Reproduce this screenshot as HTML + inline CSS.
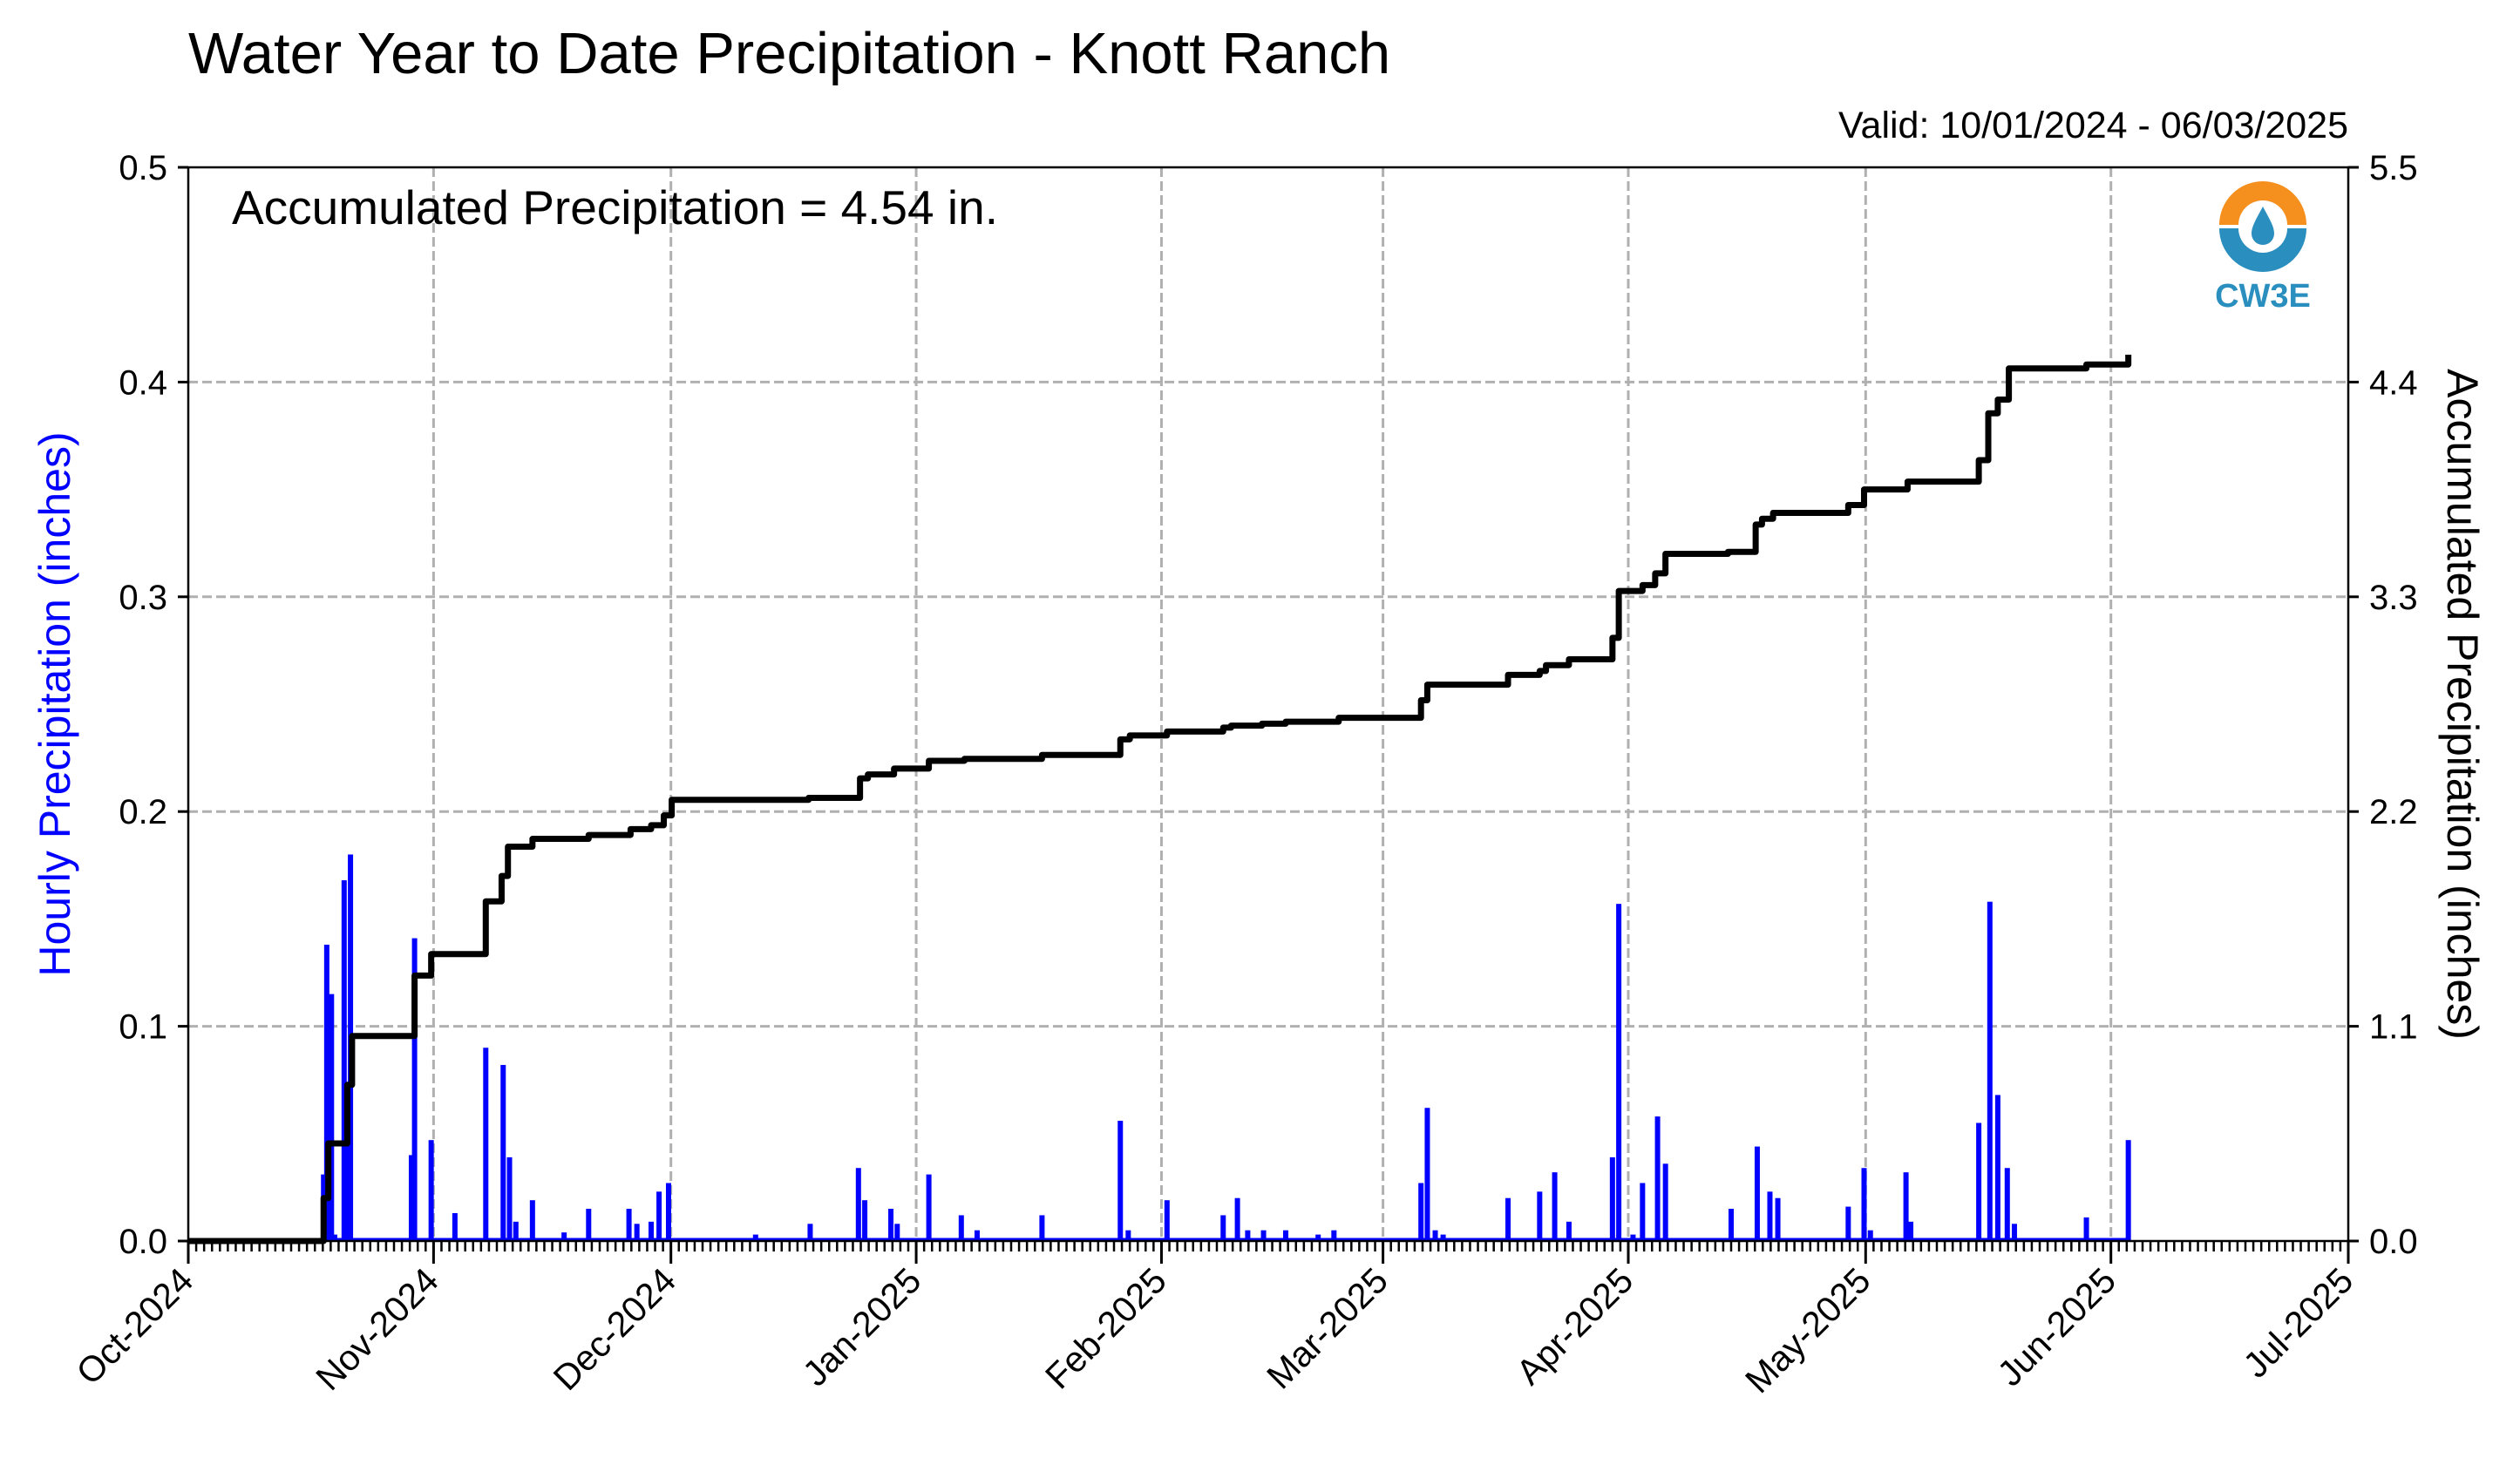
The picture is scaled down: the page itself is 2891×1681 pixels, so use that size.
<!DOCTYPE html>
<html><head><meta charset="utf-8"><style>
html,body{margin:0;padding:0;background:#fff}
svg{display:block}
text{font-family:"Liberation Sans",sans-serif}
</style></head><body>
<svg id="chart" width="2891" height="1681" viewBox="0 0 2891 1681" xmlns="http://www.w3.org/2000/svg">
<g id="grid"></g>
<g id="bars"></g>
<g id="line"></g>
<g id="axes"></g>
<text x="216" y="84" font-size="67">Water Year to Date Precipitation - Knott Ranch</text>
<text x="2694" y="158" font-size="43" text-anchor="end">Valid: 10/01/2024 - 06/03/2025</text>
<text x="266" y="257" font-size="55">Accumulated Precipitation = 4.54 in.</text>
<text transform="translate(80,808) rotate(-90)" font-size="50" fill="#0000ff" text-anchor="middle">Hourly Precipitation (inches)</text>
<text transform="translate(2808,808) rotate(90)" font-size="50" text-anchor="middle">Accumulated Precipitation (inches)</text>
<g>
<path d="M2546,258 A50,50 0 0 1 2646,258 L2624,258 A28,28 0 0 0 2568,258 Z" fill="#f5901e"/>
<path d="M2546,262 A50,50 0 0 0 2646,262 L2624,262 A28,28 0 0 1 2568,262 Z" fill="#2a8fbf"/>
<path d="M2596,237 C2588,252 2583,260 2583,268 A13,13 0 0 0 2609,268 C2609,260 2604,252 2596,237 Z" fill="#2a8fbf"/>
<text x="2596" y="352" font-size="38" font-weight="bold" fill="#2a8fbf" text-anchor="middle">CW3E</text>
</g>
</svg>
<script>
const monthLabels=["Oct-2024","Nov-2024","Dec-2024","Jan-2025","Feb-2025","Mar-2025","Apr-2025","May-2025","Jun-2025","Jul-2025"];
const monthDays=[0,31,61,92,123,151,182,212,243,273];
const leftTicks=[0.0,0.1,0.2,0.3,0.4,0.5];
const rightTicks=["0.0","1.1","2.2","3.3","4.4","5.5"];
const barDays=[17.1,17.5,18.1,18.5,19.7,20.1,20.5,28.2,28.6,30.7,33.7,37.6,39.8,40.6,41.4,43.5,47.5,50.6,55.7,56.7,58.5,59.5,60.7,71.7,78.6,84.7,85.5,88.8,89.6,93.6,97.7,99.7,107.9,117.8,118.8,123.7,130.8,132.6,133.9,135.9,138.7,142.8,144.8,155.8,156.6,157.6,158.6,166.8,170.8,172.7,174.5,180.0,180.8,182.6,183.8,185.7,186.7,195.0,198.3,199.9,200.9,209.8,211.8,212.6,217.1,217.7,226.3,227.7,228.7,229.9,230.8,239.9,245.2];
const barVals=[0.031,0.138,0.115,0.003,0.168,0.06,0.18,0.04,0.141,0.047,0.013,0.09,0.082,0.039,0.009,0.019,0.004,0.015,0.015,0.008,0.009,0.023,0.027,0.003,0.008,0.034,0.019,0.015,0.008,0.031,0.012,0.005,0.012,0.056,0.005,0.019,0.012,0.02,0.005,0.005,0.005,0.003,0.005,0.027,0.062,0.005,0.003,0.02,0.023,0.032,0.009,0.039,0.157,0.003,0.027,0.058,0.036,0.015,0.044,0.023,0.02,0.016,0.034,0.005,0.032,0.009,0.055,0.158,0.068,0.034,0.008,0.011,0.047];
const accDays=[0,16.9,17.1,17.7,19.3,20.1,20.7,28.6,30.7,37.6,39.6,40.4,43.5,50.6,55.9,58.5,60.1,61.1,78.4,84.9,85.9,89.2,93.6,98.1,107.9,117.8,119.0,123.7,130.8,131.8,135.7,138.7,145.4,155.8,156.6,166.8,170.8,171.6,174.5,180.0,180.8,183.8,185.4,186.7,194.6,198.1,198.9,200.3,209.8,211.8,217.3,226.3,227.5,228.7,230.1,239.9,245.2];
const accVals=[0,0,0.22,0.5,0.5,0.8,1.05,1.36,1.47,1.74,1.87,2.02,2.06,2.08,2.11,2.13,2.18,2.26,2.27,2.37,2.39,2.42,2.46,2.47,2.49,2.57,2.59,2.61,2.63,2.64,2.65,2.66,2.68,2.77,2.85,2.90,2.92,2.95,2.98,3.09,3.33,3.36,3.42,3.52,3.53,3.67,3.70,3.73,3.77,3.85,3.89,4.0,4.24,4.31,4.47,4.49,4.54];
const L=216,R=2694,T=192,B=1424;
const xs=d=>L+(R-L)*d/273;
const yl=v=>B-(B-T)*v/0.5;
const yr=v=>B-(B-T)*v/5.5;
const NS="http://www.w3.org/2000/svg";
function mk(tag,parent,attrs){const e=document.createElementNS(NS,tag);for(const k in attrs)e.setAttribute(k,attrs[k]);parent.appendChild(e);return e;}
const grid=document.getElementById('grid'),axes=document.getElementById('axes'),bars=document.getElementById('bars'),line=document.getElementById('line');
monthDays.forEach((d,i)=>{
 if(i>0&&i<monthDays.length-1){const g=mk('line',grid,{x1:xs(d),x2:xs(d),y1:T,y2:B,stroke:'#b0b0b0','stroke-width':3,'stroke-dasharray':'11,5'});
 
 }
 const t=mk('line',axes,{x1:xs(d),x2:xs(d),y1:B,y2:B+26,stroke:'#000','stroke-width':3});
 
 
 const lb=mk('text',axes,{transform:`translate(${xs(d)+8},${B+48}) rotate(-45)`,'font-size':41,'text-anchor':'end'});
 lb.textContent=monthLabels[i];
 
 
});
for(let d=1;d<273;d++){const t=mk('line',axes,{x1:xs(d),x2:xs(d),y1:B,y2:B+12,stroke:'#000','stroke-width':2.5});
 
 }
leftTicks.forEach((v,i)=>{
 if(i>0&&i<leftTicks.length-1){const g=mk('line',grid,{x1:L,x2:R,y1:yl(v),y2:yl(v),stroke:'#b0b0b0','stroke-width':3,'stroke-dasharray':'11,5'});
 
 }
 const t=mk('line',axes,{x1:L-12,x2:L,y1:yl(v),y2:yl(v),stroke:'#000','stroke-width':3});
 
 
 const lb=mk('text',axes,{x:L-24,y:yl(v)+14,'font-size':40,'text-anchor':'end'});
 lb.textContent=v.toFixed(1);
 
 
 const t2=mk('line',axes,{x1:R,x2:R+12,y1:yl(v),y2:yl(v),stroke:'#000','stroke-width':3});
 
 
 const lb2=mk('text',axes,{x:R+24,y:yl(v)+14,'font-size':40});
 lb2.textContent=rightTicks[i];
 
 
});
const fr=mk('rect',axes,{x:L,y:T,width:R-L,height:B-T,fill:'none',stroke:'#000','stroke-width':2.5});


const bl=mk('line',bars,{x1:xs(barDays[0]),x2:xs(barDays[barDays.length-1]),y1:B-2,y2:B-2,stroke:'#0000ff','stroke-width':3});


barDays.forEach((d,i)=>{const r=mk('rect',bars,{x:xs(d)-3,y:yl(barVals[i]),width:6,height:B-yl(barVals[i]),fill:'#0000ff'});
 
 });
let p=`M${xs(accDays[0])},${yr(accVals[0])}`;
for(let i=1;i<accDays.length;i++){p+=` H${xs(accDays[i])} V${yr(accVals[i])}`;}
p+=` H${xs(245.2)}`;
const pl=mk('path',line,{d:p,fill:'none',stroke:'#000','stroke-width':7,'stroke-linejoin':'round'});


</script>
</body></html>
